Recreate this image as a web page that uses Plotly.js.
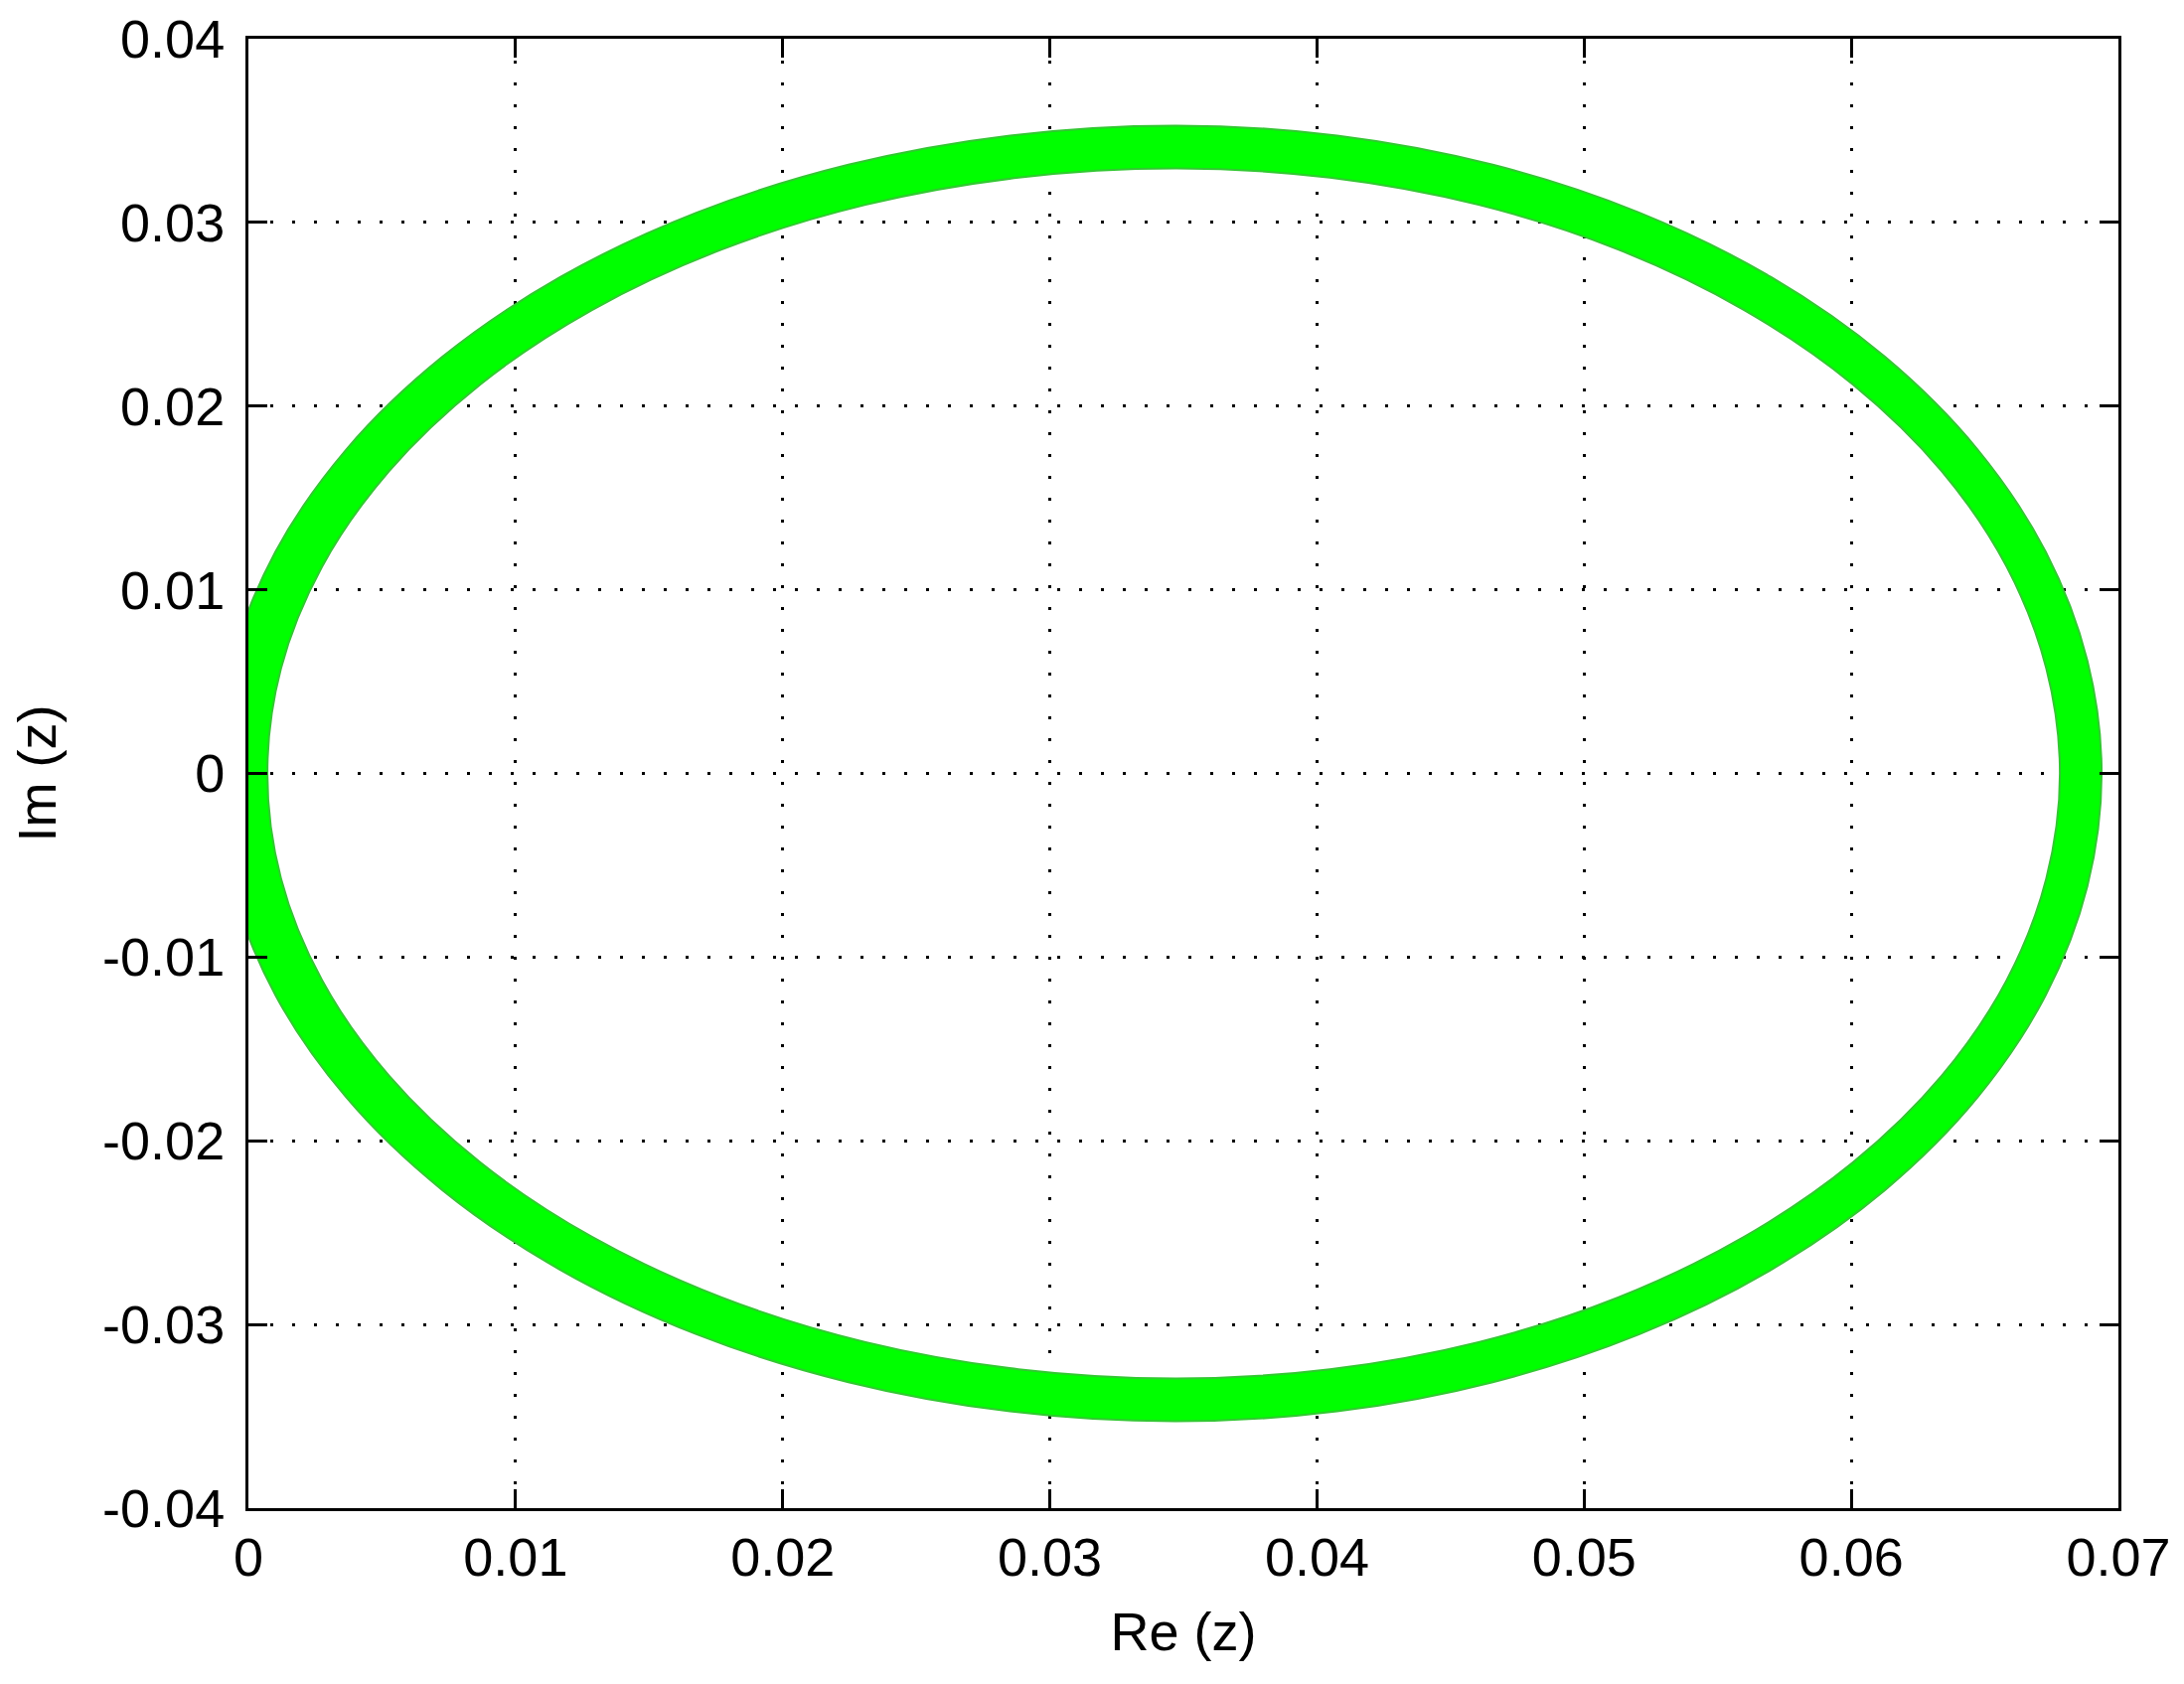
<!DOCTYPE html>
<html>
<head>
<meta charset="utf-8">
<script src="https://cdn.plot.ly/plotly-3.0.1.min.js"></script>
<style>
html, body { margin: 0; padding: 0; background: #fff; }
#plot { width: 2198px; height: 1695px; }
</style>
</head>
<body>
<div id="plot"></div>
<script>
// Outer edge of the green band (Re, Im), every 10 degrees round the loop;
// the left part runs past Re = 0 and is clipped by the axes, as in the original
const outerRe = [0.06937, 0.06884, 0.06728, 0.06473, 0.06127, 0.05700, 0.05205, 0.04658, 0.04075, 0.03474,
                 0.02851, 0.02246, 0.01679, 0.01167, 0.00725, 0.00366, 0.00101, -0.00061, -0.00115,
                 -0.00061, 0.00101, 0.00366, 0.00725, 0.01167, 0.01679, 0.02246, 0.02851, 0.03474,
                 0.04075, 0.04658, 0.05205, 0.05700, 0.06127, 0.06473, 0.06728, 0.06884];
const outerIm = [0, 0.00612, 0.01206, 0.01763, 0.02267, 0.02702, 0.03054, 0.03314, 0.03473, 0.03527,
                 0.03473, 0.03314, 0.03054, 0.02702, 0.02267, 0.01763, 0.01206, 0.00612, 0,
                 -0.00612, -0.01206, -0.01763, -0.02267, -0.02702, -0.03054, -0.03314, -0.03473, -0.03527,
                 -0.03473, -0.03314, -0.03054, -0.02702, -0.02267, -0.01763, -0.01206, -0.00612];

// Inner edge of the green band
const innerRe = [0.06781, 0.06730, 0.06581, 0.06338, 0.06007, 0.05599, 0.05127, 0.04605, 0.04048, 0.03474,
                 0.02883, 0.02310, 0.01772, 0.01286, 0.00867, 0.00527, 0.00276, 0.00122, 0.00071,
                 0.00122, 0.00276, 0.00527, 0.00867, 0.01286, 0.01772, 0.02310, 0.02883, 0.03474,
                 0.04048, 0.04605, 0.05127, 0.05599, 0.06007, 0.06338, 0.06581, 0.06730];
const innerIm = [0, 0.00572, 0.01127, 0.01647, 0.02117, 0.02523, 0.02853, 0.03096, 0.03244, 0.03294,
                 0.03244, 0.03096, 0.02853, 0.02523, 0.02117, 0.01647, 0.01127, 0.00572, 0,
                 -0.00572, -0.01127, -0.01647, -0.02117, -0.02523, -0.02853, -0.03096, -0.03244, -0.03294,
                 -0.03244, -0.03096, -0.02853, -0.02523, -0.02117, -0.01647, -0.01127, -0.00572];

const xTickVals = [0, 0.01, 0.02, 0.03, 0.04, 0.05, 0.06, 0.07];
const xTickText = ['0', '0.01', '0.02', '0.03', '0.04', '0.05', '0.06', '0.07'];
const yTickVals = [-0.04, -0.03, -0.02, -0.01, 0, 0.01, 0.02, 0.03, 0.04];
const yTickText = ['-0.04', '-0.03', '-0.02', '-0.01', '0', '0.01', '0.02', '0.03', '0.04'];

// замыкаем контур
function closed(arr) {
    return arr.concat([arr[0]]);
}

const font = 'Liberation Sans, Arial, sans-serif';
const edgeColor = 'rgb(50,200,50)';

let inner = {
    x: closed(innerRe),
    y: closed(innerIm),
    type: 'scatter',
    mode: 'lines',
    line: { color: edgeColor, width: 2, shape: 'spline', smoothing: 1 },
    hoverinfo: 'skip',
    showlegend: false
};
let outer = {
    x: closed(outerRe),
    y: closed(outerIm),
    type: 'scatter',
    mode: 'lines',
    fill: 'tonext',
    fillcolor: '#00ff00',
    line: { color: edgeColor, width: 2, shape: 'spline', smoothing: 1 },
    hoverinfo: 'skip',
    showlegend: false
};

let axisCommon = {
    showline: true,
    linecolor: '#000',
    linewidth: 3,
    mirror: 'ticks',
    ticks: 'inside',
    ticklen: 19,
    tickwidth: 3,
    tickcolor: '#000',
    showgrid: true,
    gridcolor: '#000',
    gridwidth: 3,
    griddash: '3px,19px',
    zeroline: false,
    tickfont: { family: font, size: 54, color: '#000' }
};

let layout = {
    width: 2198,
    height: 1695,
    margin: { l: 250, r: 66, t: 39, b: 177 },
    paper_bgcolor: '#fff',
    plot_bgcolor: '#fff',
    showlegend: false,
    xaxis: Object.assign({}, axisCommon, {
        range: [0, 0.07],
        tickvals: xTickVals,
        ticktext: xTickText,
        ticklabelstandoff: 0,
        title: { text: 'Re (z)', font: { family: font, size: 54, color: '#000' }, standoff: 28 }
    }),
    yaxis: Object.assign({}, axisCommon, {
        range: [-0.04, 0.04],
        tickvals: yTickVals,
        ticktext: yTickText,
        ticklabelstandoff: 10,
        title: { text: 'Im (z)', font: { family: font, size: 54, color: '#000' }, standoff: 30 }
    })
};

Plotly.newPlot('plot', [inner, outer], layout, { displayModeBar: false, staticPlot: true });
</script>
</body>
</html>
